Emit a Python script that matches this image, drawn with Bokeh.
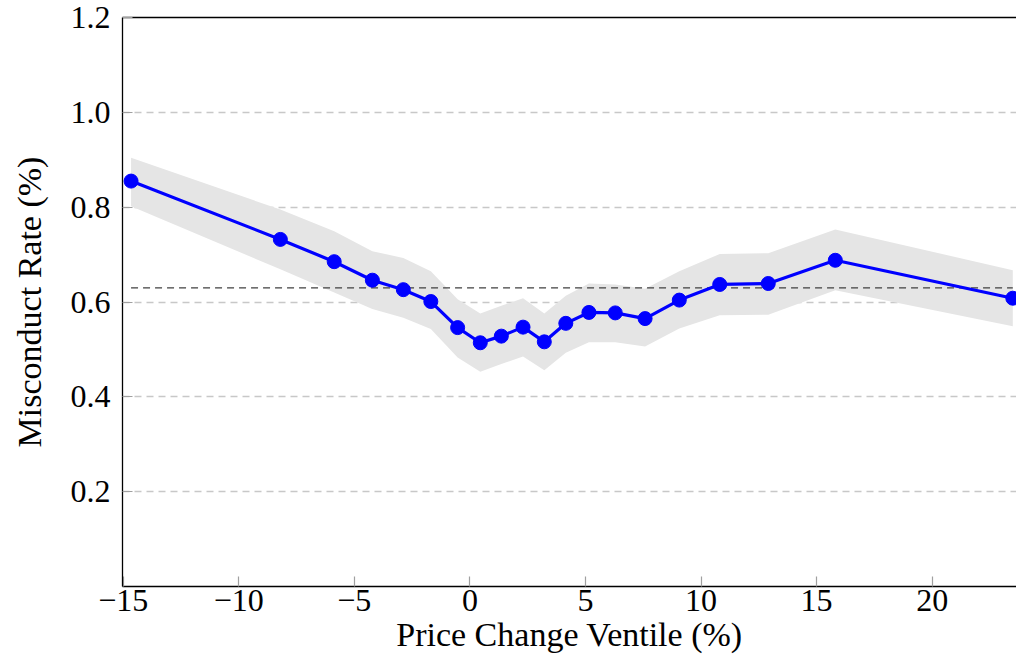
from bokeh.plotting import figure
from bokeh.models import FixedTicker, LinearAxis, Range1d, ColumnDataSource
from bokeh.embed import file_html
from bokeh.resources import INLINE

# ---- data ----
price_change = [-14.66, -8.20, -5.87, -4.22, -2.88, -1.69, -0.53, 0.45, 1.36, 2.30,
                3.22, 4.15, 5.15, 6.29, 7.58, 9.06, 10.81, 12.91, 15.81, 23.49]
misconduct_rate = [0.855, 0.732, 0.685, 0.646, 0.626, 0.601, 0.546, 0.514, 0.528, 0.547,
                   0.516, 0.555, 0.578, 0.577, 0.565, 0.604, 0.637, 0.639, 0.688, 0.608]
ci_upper = [0.904, 0.795, 0.749, 0.707, 0.693, 0.665, 0.606, 0.576, 0.592, 0.608,
            0.576, 0.613, 0.639, 0.637, 0.628, 0.665, 0.701, 0.703, 0.753, 0.667]
ci_lower = [0.802, 0.669, 0.620, 0.585, 0.567, 0.543, 0.483, 0.453, 0.469, 0.485,
            0.456, 0.493, 0.515, 0.515, 0.506, 0.544, 0.572, 0.573, 0.625, 0.549]
mean_rate = 0.63

x_ticks = [-15, -10, -5, 0, 5, 10, 15, 20]
x_tick_labels = ["\u221215", "\u221210", "\u22125", "0", "5", "10", "15", "20"]
y_ticks = [0.2, 0.4, 0.6, 0.8, 1.0, 1.2]
y_tick_labels = ["0.2", "0.4", "0.6", "0.8", "1.0", "1.2"]

FONT = "Liberation Serif"

src = ColumnDataSource(dict(x=price_change, y=misconduct_rate, up=ci_upper, lo=ci_lower))

p = figure(width=1016, height=656, output_backend="svg", toolbar_location=None,
           x_range=Range1d(-15.03, 23.65), y_range=Range1d(0, 1.2),
           min_border_left=122, min_border_right=0, min_border_top=17, min_border_bottom=70)
p.outline_line_color = None
p.background_fill_color = "white"
p.border_fill_color = "white"

# confidence band
p.varea(x="x", y1="lo", y2="up", source=src, fill_color="#e5e5e5", fill_alpha=1.0)

# mean line
p.line(x=[price_change[0], price_change[-1]], y=[mean_rate, mean_rate],
       line_color="#404040", line_width=1.3, line_dash="7 5")

# series
p.line(x="x", y="y", source=src, line_color="#0000ff", line_width=3.2)
p.scatter(x="x", y="y", source=src, size=14, fill_color="#0000ff", line_color="#0000ff")

# grid
p.xgrid.visible = False
p.ygrid.ticker = FixedTicker(ticks=y_ticks[:-1])
p.ygrid.grid_line_color = "#c8c8c8"
p.ygrid.grid_line_width = 1.3
p.ygrid.grid_line_dash = "7 5"

# axes
for ax in (p.xaxis[0], p.yaxis[0]):
    ax.axis_line_color = "black"
    ax.axis_line_width = 1.3
    ax.major_tick_in = 10
    ax.major_tick_out = 0
    ax.major_tick_line_color = "#a0a0a0"
    ax.major_tick_line_width = 1.2
    ax.minor_tick_line_color = None
    ax.major_label_text_font = FONT
    ax.major_label_text_font_size = "32px"
    ax.major_label_text_color = "black"
    ax.axis_label_text_font = FONT
    ax.axis_label_text_font_size = "34px"
    ax.axis_label_text_font_style = "normal"
    ax.axis_label_text_color = "black"

p.xaxis.ticker = FixedTicker(ticks=x_ticks)
p.xaxis.major_label_overrides = {t: l for t, l in zip(x_ticks, x_tick_labels)}
p.xaxis.major_label_standoff = 3
p.xaxis.axis_label = "Price Change Ventile (%)"
p.xaxis.axis_label_standoff = 2

p.yaxis.ticker = FixedTicker(ticks=y_ticks)
p.yaxis.major_label_overrides = {t: l for t, l in zip(y_ticks, y_tick_labels)}
p.yaxis.major_label_standoff = 12
p.yaxis.axis_label = "Misconduct Rate (%)"
p.yaxis.axis_label_standoff = 20

top_axis = LinearAxis(ticker=FixedTicker(ticks=[]), major_label_text_font_size="0px",
                      major_tick_line_color=None, minor_tick_line_color=None,
                      axis_line_color="black", axis_line_width=1.3)
p.add_layout(top_axis, "above")

open("out.html", "w").write(file_html(p, INLINE))
